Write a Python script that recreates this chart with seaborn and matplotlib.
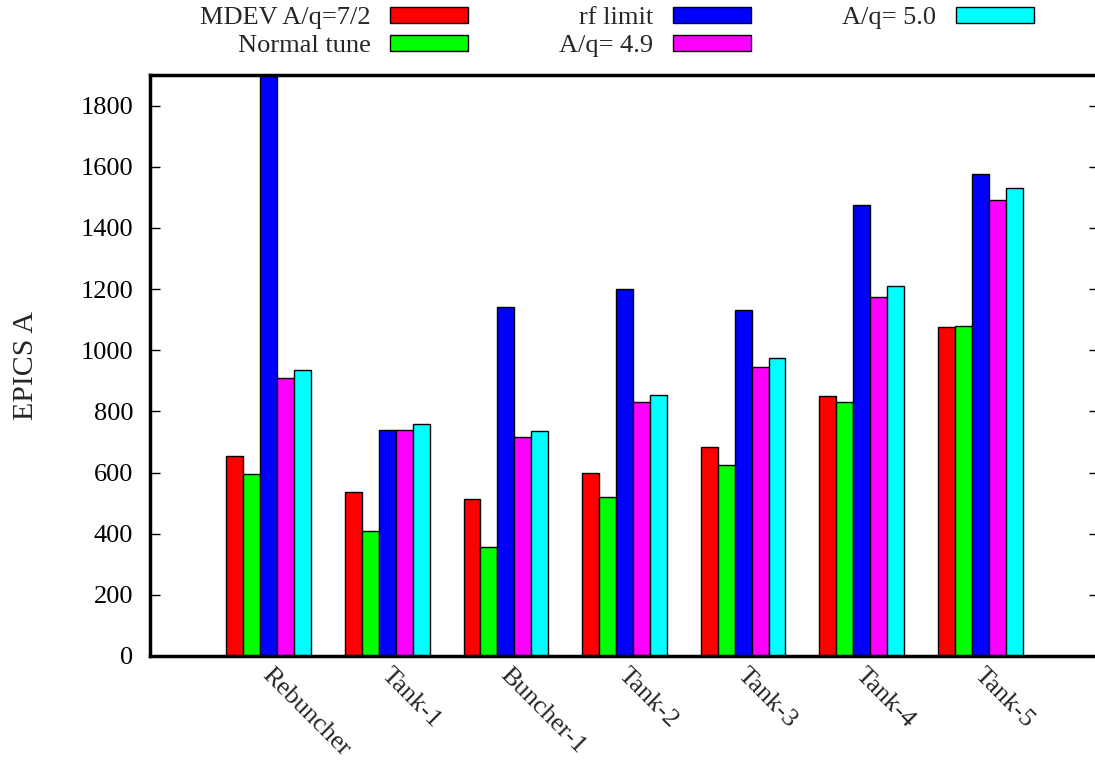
import matplotlib
matplotlib.use("Agg")
import matplotlib.pyplot as plt
import matplotlib.transforms as mtransforms
import seaborn as sns
import pandas as pd
import numpy as np

categories = ["Rebuncher", "Tank-1", "Buncher-1", "Tank-2", "Tank-3", "Tank-4", "Tank-5"]
series_names = ["MDEV A/q=7/2", "Normal tune", "rf limit", "A/q= 4.9", "A/q= 5.0"]
mdev = [655, 535, 515, 600, 685, 850, 1075]
normal = [595, 410, 355, 520, 625, 830, 1080]
rf_limit = [2000, 740, 1140, 1200, 1130, 1475, 1575]
aq49 = [910, 740, 715, 830, 945, 1175, 1490]
aq50 = [935, 760, 735, 855, 975, 1210, 1530]
colors = ["#ff0000", "#00ff00", "#0000ff", "#ff00ff", "#00ffff"]
yticks = [0, 200, 400, 600, 800, 1000, 1200, 1400, 1600, 1800]

values = [mdev, normal, rf_limit, aq49, aq50]
rows = []
for name, vals in zip(series_names, values):
    for c, v in zip(categories, vals):
        rows.append({"cat": c, "series": name, "val": v})
df = pd.DataFrame(rows)

sns.set_theme(style="white")
plt.rcParams["font.family"] = ["Liberation Serif", "DejaVu Serif"]

fig = plt.figure(figsize=(10.95, 7.65), dpi=100)
ax = fig.add_axes([150/1095, 1 - 656/765, 949/1095, 581/765])

sns.barplot(data=df, x="cat", y="val", hue="series", order=categories,
            hue_order=series_names, palette=colors, width=5/7, saturation=1,
            edgecolor="black", linewidth=1.0, ax=ax, legend=True)

ax.set_xlim(-1.0, 7.0)
ax.set_ylim(0, 1900)
ax.set_yticks(yticks)
ax.set_xlabel("")
ax.set_ylabel("EPICS A", fontsize=21.5, labelpad=30)

for s in ax.spines.values():
    s.set_linewidth(2.5)
    s.set_color("black")

ax.tick_params(axis="y", direction="in", length=7, width=1, right=True, left=True,
               labelsize=19, colors="black", pad=12)
ax.tick_params(axis="x", direction="in", length=0, labelsize=19, pad=6)
offset = mtransforms.ScaledTranslation(5/100, 0, fig.dpi_scale_trans)
for lab in ax.get_xticklabels():
    lab.set_rotation(-45)
    lab.set_ha("left")
    lab.set_va("top")
    lab.set_rotation_mode("anchor")
    lab.set_transform(lab.get_transform() + offset)

handles, labels = ax.get_legend_handles_labels()
ax.get_legend().remove()
fig.legend(handles, labels, ncol=3, loc="upper left", bbox_to_anchor=(200/1095, 1 - 7/765),
           frameon=False, markerfirst=False, fontsize=19, handlelength=2.95,
           handleheight=0.55, columnspacing=3.45, labelspacing=0.22, handletextpad=0.75,
           borderpad=0, borderaxespad=0)

fig.savefig("out.png", dpi=100)
